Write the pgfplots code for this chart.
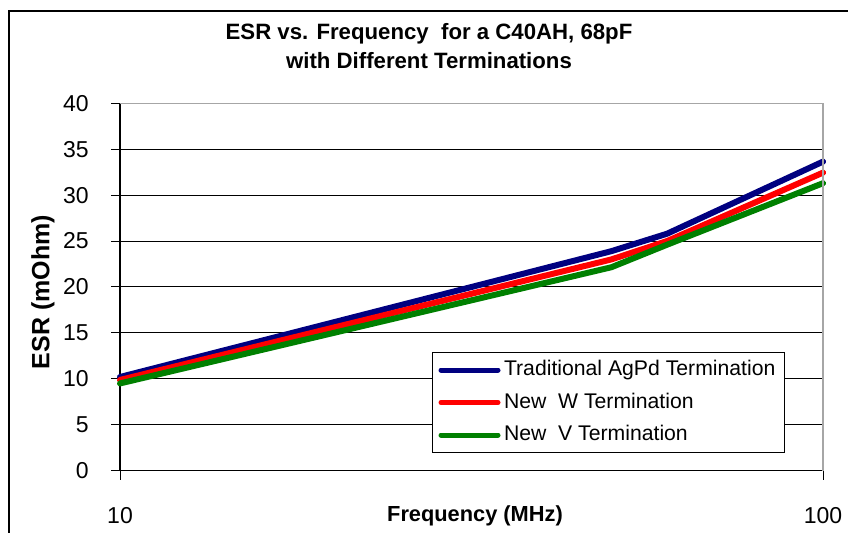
\documentclass[border=0pt]{standalone}
\usepackage{fontspec}
\setmainfont{Liberation Sans}
\usepackage{pgfplots}
\pgfplotsset{compat=1.18}
\definecolor{navyb}{RGB}{0,0,128}
\definecolor{redc}{RGB}{255,0,0}
\definecolor{greenc}{RGB}{0,128,0}
\begin{document}
\begin{tikzpicture}
\useasboundingbox (0pt,0pt) rectangle (424pt,266.5pt);
\draw[line width=0.65pt] (4.5pt,0pt) -- (4.5pt,261pt) -- (424pt,261pt);
\node[font=\bfseries\fontsize{11.1}{14.5}\selectfont, align=center] at (214.5pt,243.5pt) {ESR vs. Frequency~ for a C40AH, 68pF\\with Different Terminations};
\node[font=\bfseries\fontsize{10.9}{12}\selectfont] at (237.5pt,8.5pt) {Frequency (MHz)};
\node[font=\bfseries\fontsize{12.5}{14}\selectfont, rotate=90] at (21.5pt,120.5pt) {ESR (mOhm)};
\begin{axis}[
  at={(60pt,31.15pt)}, anchor=south west,
  scale only axis, width=351.5pt, height=183.7pt,
  xmode=log, xmin=10, xmax=100, ymin=0, ymax=40,
  xtick={10,100}, xticklabels={10,100}, xminorticks=false,
  ytick={0,5,...,40},
  axis lines=left, axis line style={-, black, line width=0.6pt},
  tick align=outside, major tick length=4.5pt,
  tick style={black, line width=0.5pt},
  ymajorgrids, grid style={black, line width=0.5pt},
  ticklabel style={font=\fontsize{11.5}{13}\selectfont},
  /pgf/number format/assume math mode=true,
  xticklabel style={anchor=center, yshift=-18pt},
  yticklabel style={anchor=east, inner sep=0pt, xshift=-11pt},
  clip=false,
  legend style={at={(0.4438,0.323)}, anchor=north west, draw=black, line width=0.5pt,
    font=\fontsize{10.6}{12}\selectfont, inner xsep=3pt, inner ysep=3.5pt, row sep=5.75pt,
    nodes={inner xsep=1.75pt, inner ysep=0pt, text height=8pt, text depth=2.5pt}},
  legend cell align=left,
  legend image code/.code={\draw[#1, line width=2.5pt] (0pt,0pt) -- (28.5pt,0pt);},
]
\addplot[navyb, line width=3pt, line cap=round, line join=round] coordinates {(10,10.2) (50,23.9) (60,25.8) (100,33.65)};
\addlegendentry{Traditional AgPd Termination}
\addplot[redc, line width=3pt, line cap=round, line join=round] coordinates {(10,9.88) (50,23.0) (60,25.0) (100,32.45)};
\addlegendentry{New~ W Termination}
\addplot[greenc, line width=3pt, line cap=round, line join=round] coordinates {(10,9.5) (50,22.15) (60,24.6) (100,31.3)};
\addlegendentry{New~ V Termination}
\draw[gray!70, line width=0.75pt] (rel axis cs:0,1) -- (rel axis cs:1,1) -- (rel axis cs:1,0);
\end{axis}
\end{tikzpicture}
\end{document}
